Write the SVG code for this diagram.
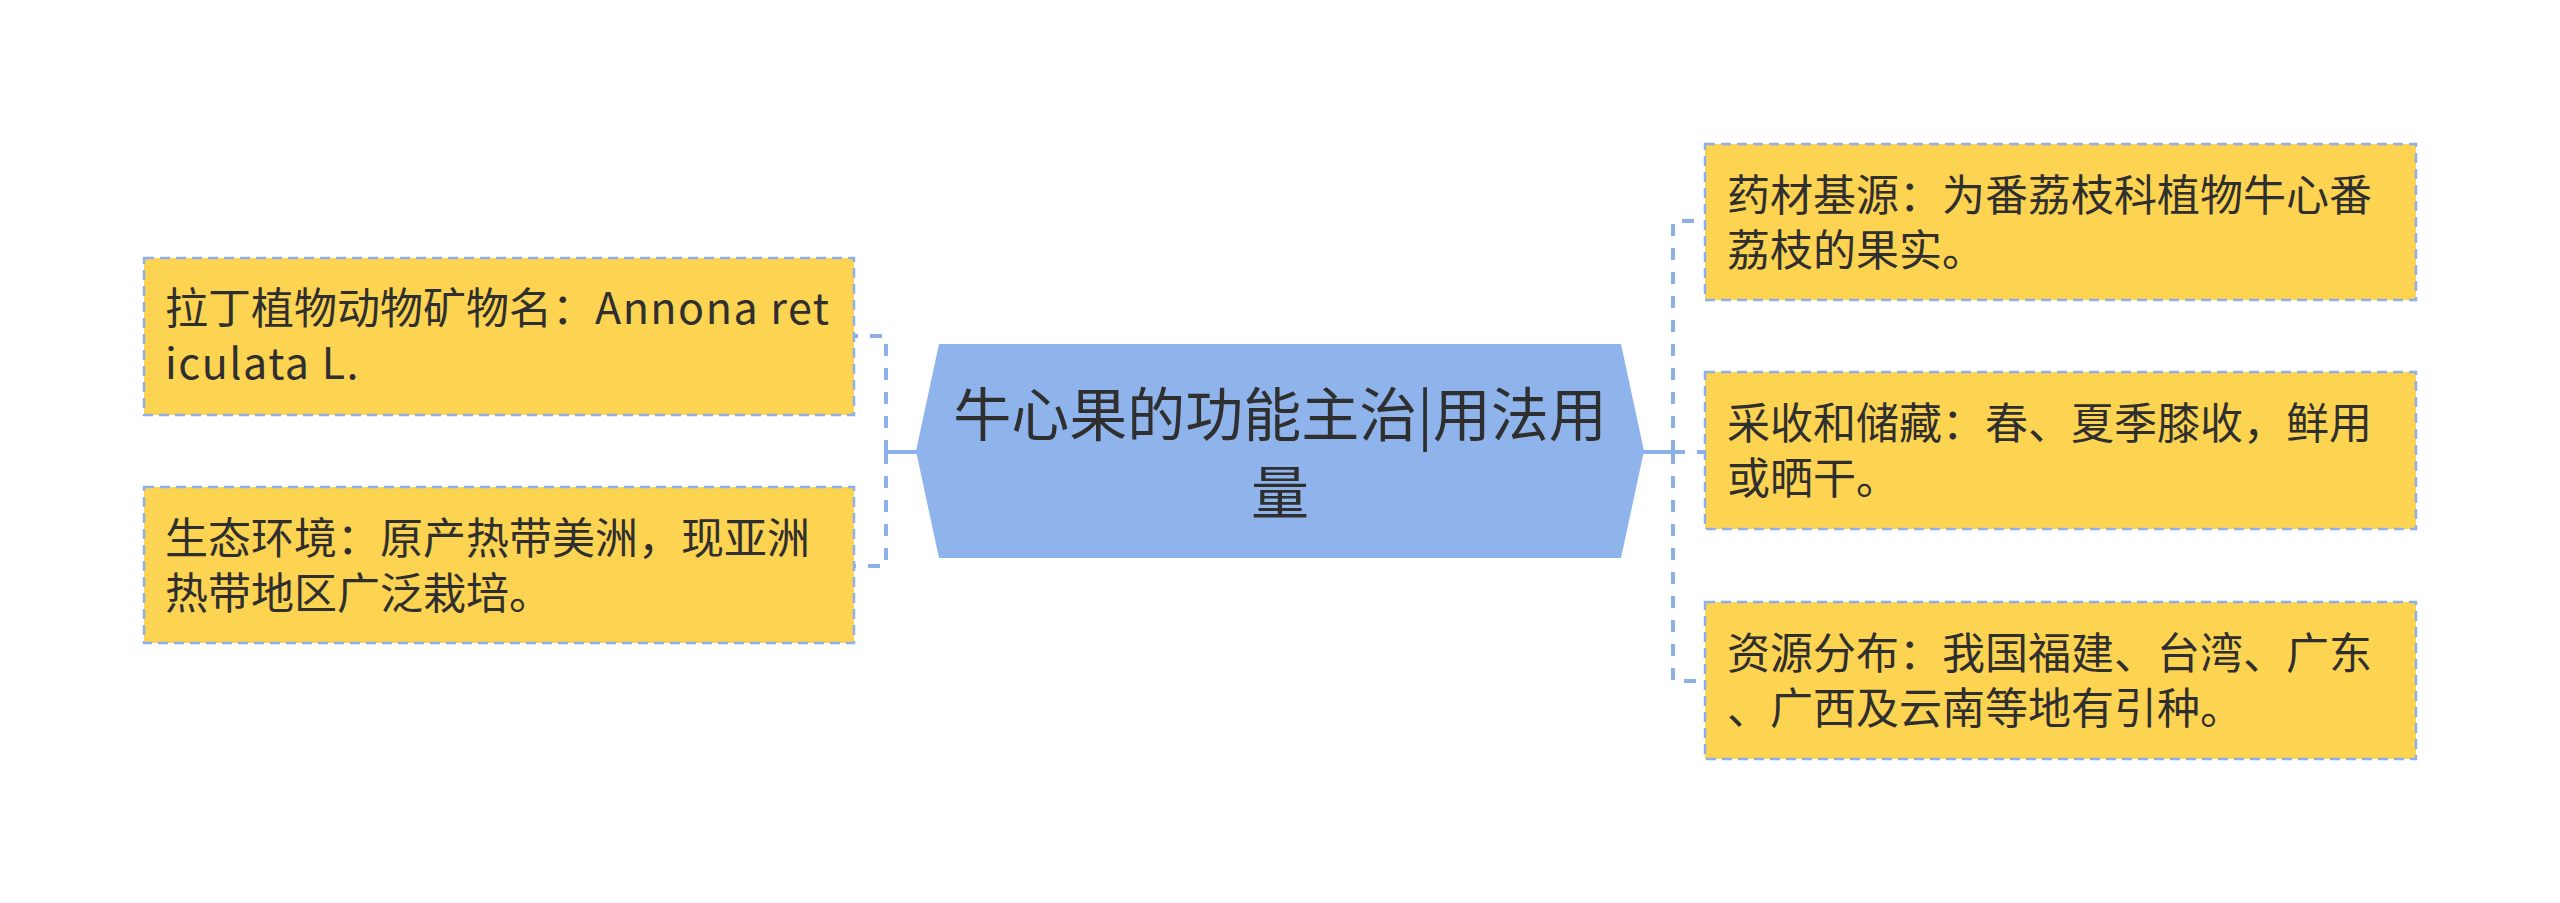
<svg xmlns="http://www.w3.org/2000/svg" width="2560" height="903" viewBox="0 0 2560 903">
<style>
.box{fill:#FDD352;stroke:#8DB0E8;stroke-width:2.5;stroke-dasharray:10 6}
.t{font-family:"Noto Sans CJK SC","Noto Sans",sans-serif;font-size:43px;fill:#2f2f2f}
.lat{letter-spacing:1.5px}
.ct{font-family:"Noto Sans CJK SC","Noto Sans",sans-serif;font-size:58px;fill:#2f2f2f;text-anchor:middle}
.solid{stroke:#8DB0E8;stroke-width:4;fill:none}
.dash{stroke:#8DB0E8;stroke-width:4;fill:none;stroke-dasharray:12 12}
</style>
<rect width="2560" height="903" fill="#ffffff"/>
<g id="connectors">
<line class="solid" x1="886" y1="452" x2="918" y2="452"/>
<path class="dash" d="M886,452 V336 H854"/>
<path class="dash" d="M886,452 V566 H854"/>
<line class="solid" x1="1642" y1="452" x2="1673" y2="452"/>
<path class="dash" d="M1673,452 V221 H1705"/>
<path class="dash" d="M1673,452 V681 H1705"/>
<path class="dash" d="M1673,452 H1705"/>
</g>
<g id="center">
<polygon points="939,344 1621,344 1644,451 1621,558 939,558 916,451" fill="#8FB3EB"/>
<text class="ct" x="1280" y="436">牛心果的功能主治|用法用</text>
<text class="ct" x="1280" y="514">量</text>
</g>
<g id="left1">
<rect class="box" x="144" y="258" width="710" height="157"/>
<text class="t" x="165" y="324">拉丁植物动物矿物名：<tspan class="lat">Annona ret</tspan></text>
<text class="t lat" x="165" y="379">iculata L.</text>
</g>
<g id="left2">
<rect class="box" x="144" y="487" width="710" height="156"/>
<text class="t" x="165" y="554">生态环境：原产热带美洲，现亚洲</text>
<text class="t" x="165" y="609">热带地区广泛栽培。</text>
</g>
<g id="right1">
<rect class="box" x="1705" y="144" width="711" height="156"/>
<text class="t" x="1727" y="211">药材基源：为番荔枝科植物牛心番</text>
<text class="t" x="1727" y="266">荔枝的果实。</text>
</g>
<g id="right2">
<rect class="box" x="1705" y="372" width="711" height="157"/>
<text class="t" x="1727" y="439">采收和储藏：春、夏季膝收，鲜用</text>
<text class="t" x="1727" y="494">或晒干。</text>
</g>
<g id="right3">
<rect class="box" x="1705" y="602" width="711" height="157"/>
<text class="t" x="1727" y="669">资源分布：我国福建、台湾、广东</text>
<text class="t" x="1727" y="724">、广西及云南等地有引种。</text>
</g>
</svg>
